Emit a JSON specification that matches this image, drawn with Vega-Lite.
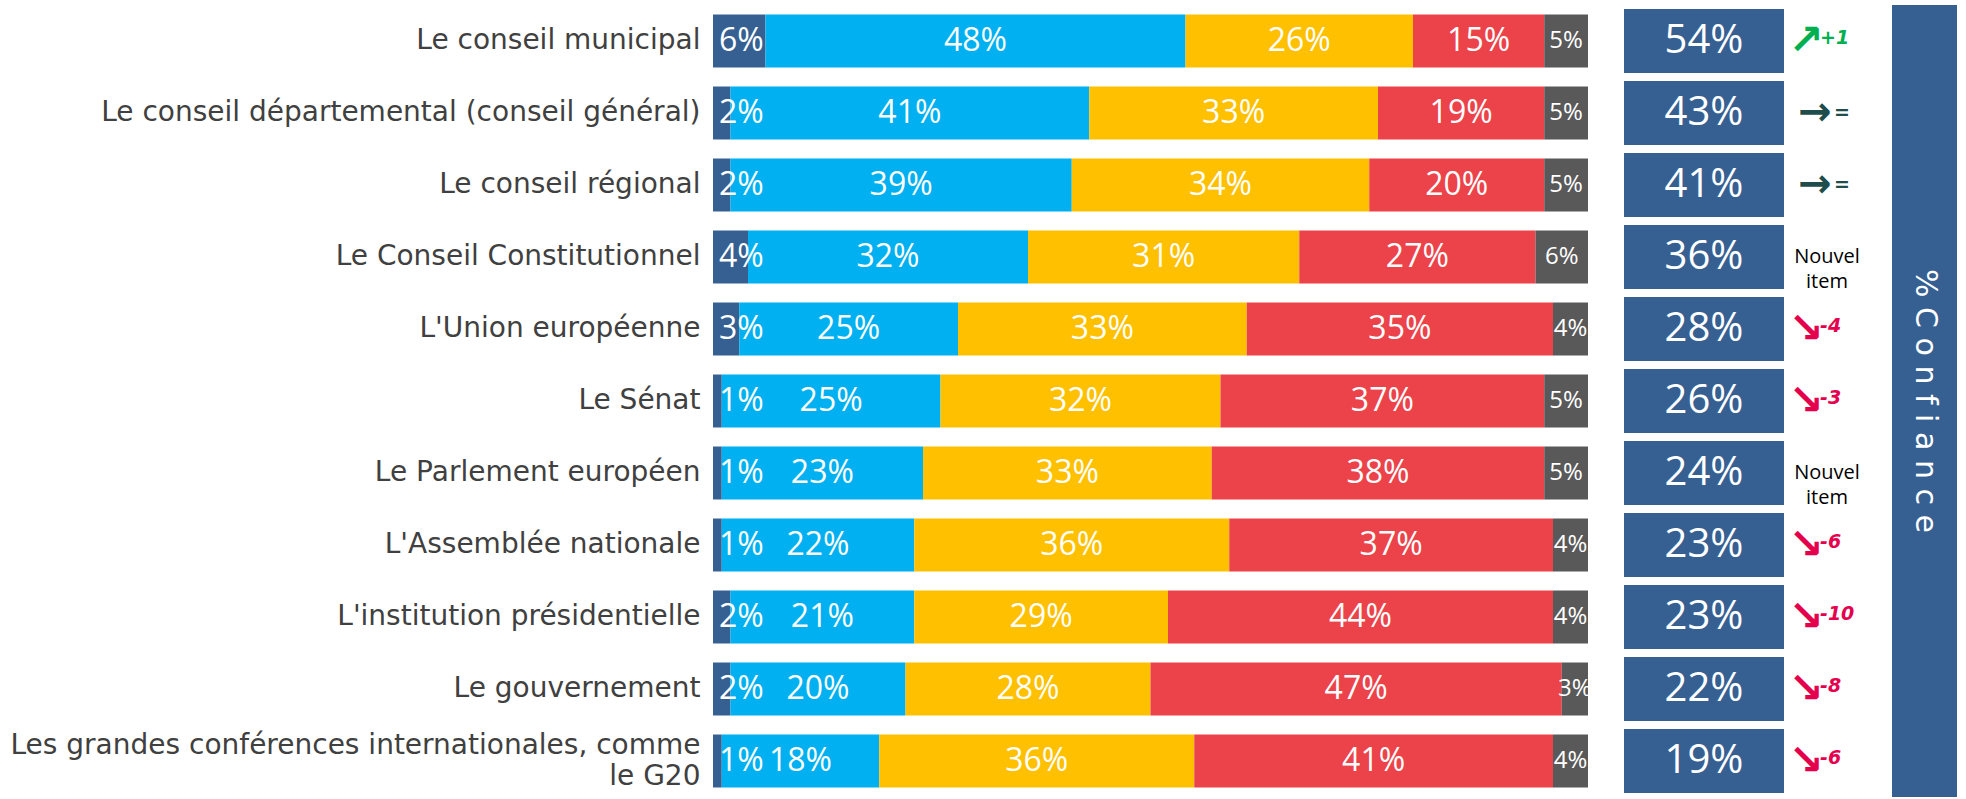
{
  "$schema": "https://vega.github.io/schema/vega-lite/v6.json",
  "background": "white",
  "padding": {"left": 10, "top": 5, "right": 2, "bottom": 2},
  "spacing": 36,
  "bounds": "flush",
  "resolve": {"scale": {"color": "independent"}},
  "config": {"view": {"stroke": null}},
  "datasets": {
    "seg": [
      {"inst": "Le conseil municipal", "cat": "Tout à fait confiance", "k": 1, "v": 0.06},
      {"inst": "Le conseil municipal", "cat": "Plutôt confiance", "k": 2, "v": 0.48},
      {"inst": "Le conseil municipal", "cat": "Plutôt pas confiance", "k": 3, "v": 0.26},
      {"inst": "Le conseil municipal", "cat": "Pas du tout confiance", "k": 4, "v": 0.15},
      {"inst": "Le conseil municipal", "cat": "Ne se prononce pas", "k": 5, "v": 0.05},
      {"inst": "Le conseil départemental (conseil général)", "cat": "Tout à fait confiance", "k": 1, "v": 0.02},
      {"inst": "Le conseil départemental (conseil général)", "cat": "Plutôt confiance", "k": 2, "v": 0.41},
      {"inst": "Le conseil départemental (conseil général)", "cat": "Plutôt pas confiance", "k": 3, "v": 0.33},
      {"inst": "Le conseil départemental (conseil général)", "cat": "Pas du tout confiance", "k": 4, "v": 0.19},
      {"inst": "Le conseil départemental (conseil général)", "cat": "Ne se prononce pas", "k": 5, "v": 0.05},
      {"inst": "Le conseil régional", "cat": "Tout à fait confiance", "k": 1, "v": 0.02},
      {"inst": "Le conseil régional", "cat": "Plutôt confiance", "k": 2, "v": 0.39},
      {"inst": "Le conseil régional", "cat": "Plutôt pas confiance", "k": 3, "v": 0.34},
      {"inst": "Le conseil régional", "cat": "Pas du tout confiance", "k": 4, "v": 0.20},
      {"inst": "Le conseil régional", "cat": "Ne se prononce pas", "k": 5, "v": 0.05},
      {"inst": "Le Conseil Constitutionnel", "cat": "Tout à fait confiance", "k": 1, "v": 0.04},
      {"inst": "Le Conseil Constitutionnel", "cat": "Plutôt confiance", "k": 2, "v": 0.32},
      {"inst": "Le Conseil Constitutionnel", "cat": "Plutôt pas confiance", "k": 3, "v": 0.31},
      {"inst": "Le Conseil Constitutionnel", "cat": "Pas du tout confiance", "k": 4, "v": 0.27},
      {"inst": "Le Conseil Constitutionnel", "cat": "Ne se prononce pas", "k": 5, "v": 0.06},
      {"inst": "L'Union européenne", "cat": "Tout à fait confiance", "k": 1, "v": 0.03},
      {"inst": "L'Union européenne", "cat": "Plutôt confiance", "k": 2, "v": 0.25},
      {"inst": "L'Union européenne", "cat": "Plutôt pas confiance", "k": 3, "v": 0.33},
      {"inst": "L'Union européenne", "cat": "Pas du tout confiance", "k": 4, "v": 0.35},
      {"inst": "L'Union européenne", "cat": "Ne se prononce pas", "k": 5, "v": 0.04},
      {"inst": "Le Sénat", "cat": "Tout à fait confiance", "k": 1, "v": 0.01},
      {"inst": "Le Sénat", "cat": "Plutôt confiance", "k": 2, "v": 0.25},
      {"inst": "Le Sénat", "cat": "Plutôt pas confiance", "k": 3, "v": 0.32},
      {"inst": "Le Sénat", "cat": "Pas du tout confiance", "k": 4, "v": 0.37},
      {"inst": "Le Sénat", "cat": "Ne se prononce pas", "k": 5, "v": 0.05},
      {"inst": "Le Parlement européen", "cat": "Tout à fait confiance", "k": 1, "v": 0.01},
      {"inst": "Le Parlement européen", "cat": "Plutôt confiance", "k": 2, "v": 0.23},
      {"inst": "Le Parlement européen", "cat": "Plutôt pas confiance", "k": 3, "v": 0.33},
      {"inst": "Le Parlement européen", "cat": "Pas du tout confiance", "k": 4, "v": 0.38},
      {"inst": "Le Parlement européen", "cat": "Ne se prononce pas", "k": 5, "v": 0.05},
      {"inst": "L'Assemblée nationale", "cat": "Tout à fait confiance", "k": 1, "v": 0.01},
      {"inst": "L'Assemblée nationale", "cat": "Plutôt confiance", "k": 2, "v": 0.22},
      {"inst": "L'Assemblée nationale", "cat": "Plutôt pas confiance", "k": 3, "v": 0.36},
      {"inst": "L'Assemblée nationale", "cat": "Pas du tout confiance", "k": 4, "v": 0.37},
      {"inst": "L'Assemblée nationale", "cat": "Ne se prononce pas", "k": 5, "v": 0.04},
      {"inst": "L'institution présidentielle", "cat": "Tout à fait confiance", "k": 1, "v": 0.02},
      {"inst": "L'institution présidentielle", "cat": "Plutôt confiance", "k": 2, "v": 0.21},
      {"inst": "L'institution présidentielle", "cat": "Plutôt pas confiance", "k": 3, "v": 0.29},
      {"inst": "L'institution présidentielle", "cat": "Pas du tout confiance", "k": 4, "v": 0.44},
      {"inst": "L'institution présidentielle", "cat": "Ne se prononce pas", "k": 5, "v": 0.04},
      {"inst": "Le gouvernement", "cat": "Tout à fait confiance", "k": 1, "v": 0.02},
      {"inst": "Le gouvernement", "cat": "Plutôt confiance", "k": 2, "v": 0.20},
      {"inst": "Le gouvernement", "cat": "Plutôt pas confiance", "k": 3, "v": 0.28},
      {"inst": "Le gouvernement", "cat": "Pas du tout confiance", "k": 4, "v": 0.47},
      {"inst": "Le gouvernement", "cat": "Ne se prononce pas", "k": 5, "v": 0.03},
      {"inst": "Les grandes conférences internationales, comme le G20", "cat": "Tout à fait confiance", "k": 1, "v": 0.01},
      {"inst": "Les grandes conférences internationales, comme le G20", "cat": "Plutôt confiance", "k": 2, "v": 0.18},
      {"inst": "Les grandes conférences internationales, comme le G20", "cat": "Plutôt pas confiance", "k": 3, "v": 0.36},
      {"inst": "Les grandes conférences internationales, comme le G20", "cat": "Pas du tout confiance", "k": 4, "v": 0.41},
      {"inst": "Les grandes conférences internationales, comme le G20", "cat": "Ne se prononce pas", "k": 5, "v": 0.04}
    ],
    "rows": [
      {"inst": "Le conseil municipal", "conf": 0.54, "dir": "up", "arrow": "↗", "delta": "+1"},
      {"inst": "Le conseil départemental (conseil général)", "conf": 0.43, "dir": "flat", "arrow": "→", "delta": "="},
      {"inst": "Le conseil régional", "conf": 0.41, "dir": "flat", "arrow": "→", "delta": "="},
      {"inst": "Le Conseil Constitutionnel", "conf": 0.36, "dir": "new", "arrow": "", "delta": "Nouvel item"},
      {"inst": "L'Union européenne", "conf": 0.28, "dir": "down", "arrow": "↘", "delta": "-4"},
      {"inst": "Le Sénat", "conf": 0.26, "dir": "down", "arrow": "↘", "delta": "-3"},
      {"inst": "Le Parlement européen", "conf": 0.24, "dir": "new", "arrow": "", "delta": "Nouvel item"},
      {"inst": "L'Assemblée nationale", "conf": 0.23, "dir": "down", "arrow": "↘", "delta": "-6"},
      {"inst": "L'institution présidentielle", "conf": 0.23, "dir": "down", "arrow": "↘", "delta": "-10"},
      {"inst": "Le gouvernement", "conf": 0.22, "dir": "down", "arrow": "↘", "delta": "-8"},
      {"inst": "Les grandes conférences internationales, comme le G20", "conf": 0.19, "dir": "down", "arrow": "↘", "delta": "-6"}
    ]
  },
  "hconcat": [
    {
      "width": 875,
      "height": 792,
      "data": {"name": "seg"},
      "transform": [
        {"stack": "v", "groupby": ["inst"], "sort": [{"field": "k", "order": "ascending"}], "as": ["x0", "x1"]},
        {"calculate": "(datum.x0 + datum.x1) / 2", "as": "xm"}
      ],
      "encoding": {
        "y": {
          "field": "inst", "type": "nominal", "sort": null,
          "scale": {"paddingInner": 0.264, "paddingOuter": 0.132,
            "domain": ["Le conseil municipal", "Le conseil départemental (conseil général)", "Le conseil régional", "Le Conseil Constitutionnel", "L'Union européenne", "Le Sénat", "Le Parlement européen", "L'Assemblée nationale", "L'institution présidentielle", "Le gouvernement", "Les grandes conférences internationales, comme le G20"]},
          "axis": {
            "title": null, "domain": false, "ticks": false, "labelPadding": 13,
            "labelLimit": 2000, "labelFontSize": 28, "labelFont": "DejaVu Sans",
            "labelColor": "#404040", "labelLineHeight": 31,
            "labelOffset": {"condition": {"test": "datum.value == 'Les grandes conférences internationales, comme le G20'", "value": -15}, "value": 0},
            "labelExpr": "datum.value == 'Les grandes conférences internationales, comme le G20' ? ['Les grandes conférences internationales, comme', 'le G20'] : datum.label"
          }
        }
      },
      "layer": [
        {
          "mark": {"type": "bar"},
          "encoding": {
            "x": {"field": "x0", "type": "quantitative", "scale": {"domain": [0, 1], "nice": false, "zero": true}, "axis": null},
            "x2": {"field": "x1"},
            "color": {
              "field": "cat", "type": "nominal",
              "scale": {
                "domain": ["Tout à fait confiance", "Plutôt confiance", "Plutôt pas confiance", "Pas du tout confiance", "Ne se prononce pas"],
                "range": ["#376092", "#00B0F0", "#FFC000", "#EC4249", "#595959"]
              },
              "legend": null
            }
          }
        },
        {
          "transform": [{"filter": "datum.k == 1"}],
          "mark": {"type": "text", "align": "left", "dx": 6, "baseline": "middle", "fontSize": 32, "font": "Open Sans", "color": "white"},
          "encoding": {
            "x": {"field": "x0", "type": "quantitative"},
            "text": {"field": "v", "type": "quantitative", "format": ".0%"}
          }
        },
        {
          "transform": [{"filter": "datum.k > 1 && datum.k < 5"}],
          "mark": {"type": "text", "align": "center", "baseline": "middle", "fontSize": 32, "font": "Open Sans", "color": "white"},
          "encoding": {
            "x": {"field": "xm", "type": "quantitative"},
            "text": {"field": "v", "type": "quantitative", "format": ".0%"}
          }
        },
        {
          "transform": [{"filter": "datum.k == 5"}],
          "mark": {"type": "text", "align": "center", "baseline": "middle", "fontSize": 24, "font": "Open Sans", "color": "white"},
          "encoding": {
            "x": {"field": "xm", "type": "quantitative"},
            "text": {"field": "v", "type": "quantitative", "format": ".0%"}
          }
        }
      ]
    },
    {
      "width": 160,
      "height": 792,
      "data": {"name": "rows"},
      "encoding": {
        "y": {"field": "inst", "type": "nominal", "sort": null, "axis": null,
          "scale": {"paddingInner": 0.11, "paddingOuter": 0.055,
            "domain": ["Le conseil municipal", "Le conseil départemental (conseil général)", "Le conseil régional", "Le Conseil Constitutionnel", "L'Union européenne", "Le Sénat", "Le Parlement européen", "L'Assemblée nationale", "L'institution présidentielle", "Le gouvernement", "Les grandes conférences internationales, comme le G20"]}}
      },
      "layer": [
        {
          "mark": {"type": "rect", "color": "#376092"},
          "encoding": {
            "x": {"datum": "Confiance", "type": "nominal", "scale": {"paddingInner": 0, "paddingOuter": 0}, "axis": null}
          }
        },
        {
          "mark": {"type": "text", "baseline": "middle", "fontSize": 40, "font": "Open Sans", "color": "white"},
          "encoding": {
            "text": {"field": "conf", "type": "quantitative", "format": ".0%"}
          }
        }
      ]
    },
    {
      "width": 36,
      "height": 792,
      "data": {"name": "rows"},
      "encoding": {
        "y": {"field": "inst", "type": "nominal", "sort": null, "axis": null,
          "scale": {"paddingInner": 0.11, "paddingOuter": 0.055,
            "domain": ["Le conseil municipal", "Le conseil départemental (conseil général)", "Le conseil régional", "Le Conseil Constitutionnel", "L'Union européenne", "Le Sénat", "Le Parlement européen", "L'Assemblée nationale", "L'institution présidentielle", "Le gouvernement", "Les grandes conférences internationales, comme le G20"]}},
        "color": {"field": "dir", "type": "nominal", "scale": {"domain": ["up", "flat", "down", "new"], "range": ["#00B050", "#1E4D4B", "#E5004D", "#000000"]}, "legend": null}
      },
      "layer": [
        {
          "transform": [{"filter": "datum.dir == 'up' || datum.dir == 'down'"}],
          "mark": {"type": "text", "baseline": "middle", "dx": -32, "fontSize": 42, "font": "DejaVu Sans", "fontWeight": "bold"},
          "encoding": {"text": {"field": "arrow"}}
        },
        {
          "transform": [{"filter": "datum.dir == 'up' || datum.dir == 'down'"}],
          "mark": {"type": "text", "baseline": "middle", "align": "left", "dx": -18, "dy": -3, "fontSize": 19, "font": "DejaVu Sans", "fontWeight": "bold", "fontStyle": "italic"},
          "encoding": {"text": {"field": "delta"}}
        },
        {
          "transform": [{"filter": "datum.dir == 'flat'"}],
          "mark": {"type": "text", "baseline": "middle", "dx": -23, "fontSize": 40, "font": "DejaVu Sans", "fontWeight": "bold"},
          "encoding": {"text": {"field": "arrow"}}
        },
        {
          "transform": [{"filter": "datum.dir == 'flat'"}],
          "mark": {"type": "text", "baseline": "middle", "align": "left", "dx": -4, "fontSize": 19, "font": "DejaVu Sans", "fontWeight": "bold", "fontStyle": "italic"},
          "encoding": {"text": {"field": "delta"}}
        },
        {
          "transform": [{"filter": "datum.dir == 'new'"}],
          "mark": {"type": "text", "baseline": "middle", "dx": -11, "fontSize": 20, "font": "Open Sans", "lineBreak": " ", "lineHeight": 25},
          "encoding": {"text": {"field": "delta"}}
        }
      ]
    },
    {
      "width": 65,
      "height": 792,
      "data": {"values": [{"t": "% C o n f i a n c e"}]},
      "encoding": {
        "x": {"datum": "total", "type": "nominal", "scale": {"paddingInner": 0, "paddingOuter": 0}, "axis": null},
        "y": {"datum": "total", "type": "nominal", "scale": {"paddingInner": 0, "paddingOuter": 0}, "axis": null}
      },
      "layer": [
        {"mark": {"type": "rect", "color": "#376092"}},
        {
          "mark": {"type": "text", "angle": 90, "baseline": "middle", "align": "center", "dy": 0, "fontSize": 30, "font": "DejaVu Sans", "color": "white"},
          "encoding": {"text": {"field": "t"}}
        }
      ]
    }
  ]
}
